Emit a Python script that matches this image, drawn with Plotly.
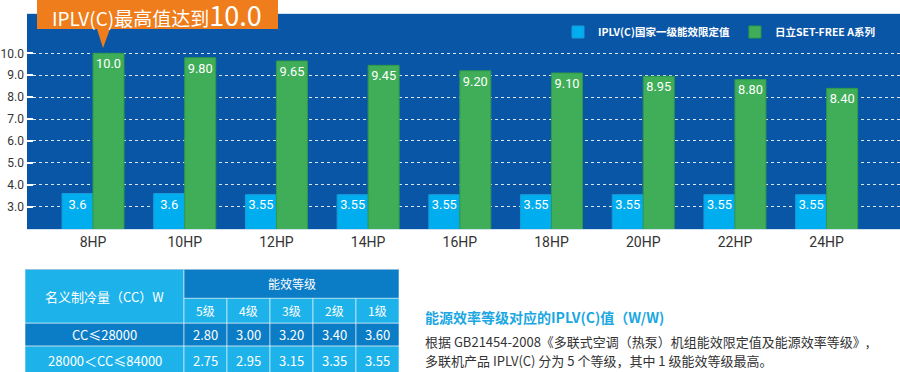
import plotly.graph_objects as go

# ---------------- data ----------------
categories = ["8HP", "10HP", "12HP", "14HP", "16HP", "18HP", "20HP", "22HP", "24HP"]
national_limit = [3.6, 3.6, 3.55, 3.55, 3.55, 3.55, 3.55, 3.55, 3.55]
national_labels = ["3.6", "3.6", "3.55", "3.55", "3.55", "3.55", "3.55", "3.55", "3.55"]
setfree_values = [10.0, 9.80, 9.65, 9.45, 9.20, 9.10, 8.95, 8.80, 8.40]
setfree_labels = ["10.0", "9.80", "9.65", "9.45", "9.20", "9.10", "8.95", "8.80", "8.40"]
series_names = ["IPLV(C)国家一级能效限定值", "日立SET-FREE A系列"]
y_ticks = [3, 4, 5, 6, 7, 8, 9, 10]

callout_text = "IPLV(C)最高值达到"
callout_value = "10.0"

table_corner = "名义制冷量（CC）W"
table_group = "能效等级"
grade_labels = ["5级", "4级", "3级", "2级", "1级"]
capacity_ranges = ["CC≤28000", "28000＜CC≤84000"]
iplv_limits = [[2.80, 3.00, 3.20, 3.40, 3.60],
               [2.75, 2.95, 3.15, 3.35, 3.55]]

note_title = "能源效率等级对应的IPLV(C)值（W/W)"
note_lines = ["根据 GB21454-2008《多联式空调（热泵）机组能效限定值及能源效率等级》,",
              "多联机产品 IPLV(C) 分为 5 个等级，其中 1 级能效等级最高。"]

# ---------------- style ----------------
W, H = 900, 372
BG_BLUE = "#0A56A6"
CYAN = "#00AEEF"
GREEN = "#40AE59"
ORANGE = "#EF7D1B"
TXT = "#333333"
CJK = "Noto Sans CJK SC"
NUM = "Liberation Sans Narrow, Roboto, Noto Sans CJK SC, sans-serif"

def px_x(p):
    return p / W

def px_y(p):
    return 1 - p / H

fig = go.Figure()

fig.add_trace(go.Bar(
    x=categories, y=national_limit, name=series_names[0],
    text=national_labels, textposition="inside", insidetextanchor="end", textangle=0,
    textfont=dict(color="white", size=13, family=NUM),
    marker=dict(color=CYAN, line=dict(color="#1A9AD6", width=1)),
))
fig.add_trace(go.Bar(
    x=categories, y=setfree_values, name=series_names[1],
    text=setfree_labels, textposition="inside", insidetextanchor="end", textangle=0,
    textfont=dict(color="white", size=13, family=NUM),
    marker=dict(color=GREEN, line=dict(color="#2F9A48", width=1)),
))

# ---------------- table (drawn on its own axes) ----------------
first_col_w = 159
col_w = 43
row_h = [29, 25, 23, 28]
col_edges = [0, first_col_w] + [first_col_w + col_w * (i + 1) for i in range(len(grade_labels))]
row_edges = [0]
for h in row_h:
    row_edges.append(row_edges[-1] + h)

LIGHT = "#1DB3EA"
DARK = "#0B7DC6"
LINE = "rgba(255,255,255,0.55)"

shapes = []

def cell(c0, c1, r0, r1, color):
    shapes.append(dict(type="rect", xref="x2", yref="y2",
                       x0=col_edges[c0], x1=col_edges[c1],
                       y0=row_edges[r0], y1=row_edges[r1],
                       fillcolor=color, line=dict(color=LINE, width=1), layer="below"))

annotations = []

def ctext(c0, c1, r0, r1, text, size=12):
    annotations.append(dict(xref="x2", yref="y2",
                            x=(col_edges[c0] + col_edges[c1]) / 2,
                            y=(row_edges[r0] + row_edges[r1]) / 2,
                            text=text, showarrow=False,
                            font=dict(color="white", size=size, family=CJK)))

ncols = len(grade_labels)
cell(0, 1, 0, 2, LIGHT)
ctext(0, 1, 0, 2, table_corner, 13)
cell(1, ncols + 1, 0, 1, DARK)
ctext(1, ncols + 1, 0, 1, table_group, 12)
for i, g in enumerate(grade_labels):
    cell(1 + i, 2 + i, 1, 2, LIGHT)
    ctext(1 + i, 2 + i, 1, 2, g, 12)
for r, (cap, vals) in enumerate(zip(capacity_ranges, iplv_limits)):
    color = DARK if r == 0 else LIGHT
    cell(0, 1, 2 + r, 3 + r, color)
    ctext(0, 1, 2 + r, 3 + r, cap, 13)
    for i, v in enumerate(vals):
        cell(1 + i, 2 + i, 2 + r, 3 + r, color)
        ctext(1 + i, 2 + i, 2 + r, 3 + r, f"{v:.2f}", 13)

# ---------------- callout ----------------
shapes.append(dict(type="path", xref="paper", yref="paper",
                   path=(f"M {px_x(37)} {px_y(0)} L {px_x(278)} {px_y(0)} L {px_x(278)} {px_y(29)} "
                         f"L {px_x(110)} {px_y(29)} L {px_x(103)} {px_y(48)} L {px_x(97)} {px_y(29)} "
                         f"L {px_x(37)} {px_y(29)} Z"),
                   fillcolor=ORANGE, line=dict(width=0), layer="above"))
annotations.append(dict(xref="paper", yref="paper", x=px_x(157), y=px_y(15),
                        xanchor="center", yanchor="middle", showarrow=False,
                        text=f"{callout_text}<span style='font-size:27px'>{callout_value}</span>",
                        font=dict(color="white", size=19, family=CJK)))

# ---------------- note text ----------------
annotations.append(dict(xref="paper", yref="paper", x=px_x(423), y=px_y(317),
                        xanchor="left", yanchor="middle", showarrow=False,
                        text=f"<b>{note_title}</b>",
                        font=dict(color="#1BA7E1", size=14, family=CJK)))
for k, line in enumerate(note_lines):
    annotations.append(dict(xref="paper", yref="paper", x=px_x(423), y=px_y(341 + 19 * k),
                            xanchor="left", yanchor="middle", showarrow=False,
                            text=line, font=dict(color=TXT, size=13, family=CJK)))

fig.update_layout(
    width=W, height=H, autosize=False, margin=dict(l=0, r=0, t=0, b=0),
    paper_bgcolor="white", plot_bgcolor=BG_BLUE,
    barmode="group", bargap=0.324, bargroupgap=0,
    showlegend=True,
    legend=dict(orientation="h", x=px_x(880), xanchor="right", y=px_y(32), yanchor="middle",
                bgcolor="rgba(0,0,0,0)", font=dict(color="white", size=10.5, family=CJK, weight="bold"),
                itemwidth=30, traceorder="normal", tracegroupgap=0),
    xaxis=dict(domain=[px_x(27), 1], range=[-0.72, 8.8], showgrid=False,
               showline=True, mirror=True, linecolor="#CFE0F0", linewidth=1,
               tickfont=dict(color=TXT, size=14, family=NUM), ticks="", automargin=False,
               fixedrange=True),
    yaxis=dict(domain=[px_y(229), px_y(13.5)], range=[1.982, 11.816],
               tickvals=y_ticks, tickformat=".1f",
               showgrid=True, gridcolor="rgba(255,255,255,0.85)", griddash="dot", gridwidth=1,
               ticks="inside", ticklen=6, tickwidth=2, tickcolor="white",
               tickfont=dict(color=TXT, size=12, family=NUM), ticklabelstandoff=2,
               zeroline=False, showline=False, automargin=False, fixedrange=True),
    xaxis2=dict(domain=[px_x(25), px_x(399)], range=[0, col_edges[-1]], anchor="y2",
                visible=False, automargin=False),
    yaxis2=dict(domain=[0, px_y(269.5)], range=[103, 0], anchor="x2",
                visible=False, automargin=False),
    shapes=shapes, annotations=annotations,
)

fig.write_html("out.html", config={"displayModeBar": False, "responsive": False},
               post_script="document.body.style.margin='0';document.body.style.overflow='hidden';")
